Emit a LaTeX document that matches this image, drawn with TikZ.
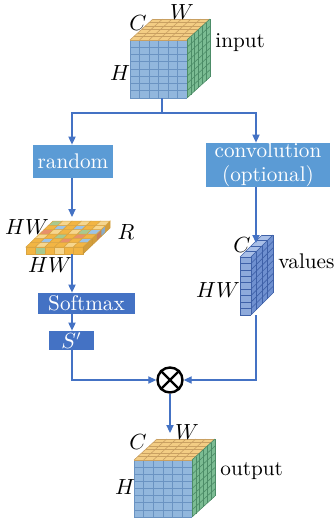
\documentclass[tikz,border=0pt]{standalone}
\usetikzlibrary{arrows.meta}

% palette
\definecolor{flowblue}{HTML}{4472C4}
\definecolor{boxlight}{HTML}{5B9BD5}
\definecolor{boxdark}{HTML}{4472C4}
\definecolor{cubefront}{HTML}{92B7DD}
\definecolor{cubefrontgrid}{HTML}{6A93C2}
\definecolor{cubetop}{HTML}{F3CD84}
\definecolor{cubetopgrid}{HTML}{C9A062}
\definecolor{cubeside}{HTML}{7BBC93}
\definecolor{cubesidegrid}{HTML}{4C8C67}
\definecolor{valfront}{HTML}{8EAADB}
\definecolor{valtop}{HTML}{A9BFE7}
\definecolor{valside}{HTML}{6F90D0}
\definecolor{valgrid}{HTML}{3F61A8}
\definecolor{cO}{HTML}{F2B544}
\definecolor{cL}{HTML}{F6D68E}
\definecolor{cG}{HTML}{A8C98F}
\definecolor{cB}{HTML}{9DC3E6}
\definecolor{cR}{HTML}{E8906A}
\definecolor{slabgrid}{HTML}{D9A441}

% block with gridded front, top and side faces
% #1 x0, #2 y0, #3 width, #4 height, #5 dx, #6 dy, #7 columns, #8 rows, #9 depth cells
\newcommand\gridblock[9]{%
  \fill[blkfront] ({#1},{#2}) rectangle ({#1+#3},{#2+#4});
  \foreach \i in {0,...,#7}{\draw[blkfrontgrid] ({#1+\i*#3/#7},{#2}) -- ({#1+\i*#3/#7},{#2+#4});}
  \foreach \j in {0,...,#8}{\draw[blkfrontgrid] ({#1},{#2+\j*#4/#8}) -- ({#1+#3},{#2+\j*#4/#8});}
  \fill[blktop] ({#1},{#2}) -- ({#1+#3},{#2}) -- ({#1+#3+#5},{#2+#6}) -- ({#1+#5},{#2+#6}) -- cycle;
  \foreach \i in {0,...,#7}{\draw[blktopgrid] ({#1+\i*#3/#7},{#2}) -- ({#1+\i*#3/#7+#5},{#2+#6});}
  \foreach \k in {0,...,#9}{\draw[blktopgrid] ({#1+\k*#5/#9},{#2+\k*#6/#9}) -- ({#1+#3+\k*#5/#9},{#2+\k*#6/#9});}
  \fill[blkside] ({#1+#3},{#2}) -- ({#1+#3+#5},{#2+#6}) -- ({#1+#3+#5},{#2+#6+#4}) -- ({#1+#3},{#2+#4}) -- cycle;
  \foreach \k in {0,...,#9}{\draw[blksidegrid] ({#1+#3+\k*#5/#9},{#2+\k*#6/#9}) -- ({#1+#3+\k*#5/#9},{#2+#4+\k*#6/#9});}
  \foreach \j in {0,...,#8}{\draw[blksidegrid] ({#1+#3},{#2+\j*#4/#8}) -- ({#1+#3+#5},{#2+\j*#4/#8+#6});}
}

\tikzset{
  cubecolours/.style={
    blkfront/.style={fill=cubefront},
    blkfrontgrid/.style={draw=cubefrontgrid, line width=0.3pt},
    blktop/.style={fill=cubetop},
    blktopgrid/.style={draw=cubetopgrid, line width=0.3pt},
    blkside/.style={fill=cubeside},
    blksidegrid/.style={draw=cubesidegrid, line width=0.3pt}},
  valcolours/.style={
    blkfront/.style={fill=valfront},
    blkfrontgrid/.style={draw=valgrid, line width=0.3pt},
    blktop/.style={fill=valtop},
    blktopgrid/.style={draw=valgrid, line width=0.3pt},
    blkside/.style={fill=valside},
    blksidegrid/.style={draw=valgrid, line width=0.3pt}},
}

\begin{document}
\begin{tikzpicture}[x=0.5pt, y=-0.5pt,
  every node/.style={font=\fontsize{10.6}{12}\selectfont, inner sep=0pt},
  flow/.style={draw=flowblue, line width=0.6pt},
  arr/.style={flow, -{Triangle[length=4pt, width=3.6pt]}},
  lightbox/.style={fill=boxlight, text=white, align=center},
  darkbox/.style={fill=boxdark, text=white, align=center}]

\path[use as bounding box] (0,0) rectangle (336,520);

% column guides
\coordinate (lcol) at (72,0);
\coordinate (rcol) at (256,0);

% input tensor
\begin{scope}[cubecolours]
  \gridblock{130}{40}{57}{58}{23}{-21}{6}{8}{6}
\end{scope}
\node (inC) at (138,23) {$C$};
\node (inW) at (182,12) {$W$};
\node (inH) at (120,73) {$H$};
\node[anchor=base west] (inlabel) at (215,47) {input};
\coordinate (inbot) at (162,98);
\coordinate (split) at (162,113);

% processing boxes
\node[lightbox, minimum width=40pt, minimum height=16.5pt] (random) at (73,161.5) {random};
\node[lightbox, minimum width=62pt, minimum height=20pt] (conv) at (268,165)
  {\fontsize{10.6}{9.2}\selectfont convolution\\(optional)};

% random tensor (HW x R)
\def\sx{26}\def\sy{247}\def\sw{57}\def\sh{7}\def\sdx{27}\def\sdy{-26}
\foreach \cellcol [count=\i from 0] in {cO,cG,cO,cL,cO,cO}{
  \fill[\cellcol, draw=slabgrid, line width=0.25pt]
    ({\sx+\i*\sw/6},{\sy}) rectangle ({\sx+(\i+1)*\sw/6},{\sy+\sh});
}
\foreach \cellcol [count=\k from 0] in {cO,cO,cO,cR,cB,cO}{
  \fill[\cellcol, draw=slabgrid, line width=0.25pt]
    ({\sx+\sw+\k*\sdx/6},{\sy+\k*\sdy/6}) -- ({\sx+\sw+(\k+1)*\sdx/6},{\sy+(\k+1)*\sdy/6})
    -- ({\sx+\sw+(\k+1)*\sdx/6},{\sy+\sh+(\k+1)*\sdy/6}) -- ({\sx+\sw+\k*\sdx/6},{\sy+\sh+\k*\sdy/6}) -- cycle;
  \fill[black, opacity=0.12]
    ({\sx+\sw+\k*\sdx/6},{\sy+\k*\sdy/6}) -- ({\sx+\sw+(\k+1)*\sdx/6},{\sy+(\k+1)*\sdy/6})
    -- ({\sx+\sw+(\k+1)*\sdx/6},{\sy+\sh+(\k+1)*\sdy/6}) -- ({\sx+\sw+\k*\sdx/6},{\sy+\sh+\k*\sdy/6}) -- cycle;
}
\foreach \rowcols [count=\k from 0] in {
    {cO,cL,cO,cO,cL,cO},
    {cO,cB,cO,cR,cO,cB},
    {cL,cO,cG,cO,cR,cO},
    {cR,cL,cO,cL,cG,cB},
    {cO,cB,cO,cB,cO,cL},
    {cG,cL,cO,cL,cO,cL}}{
  \foreach \cellcol [count=\i from 0] in \rowcols {
    \fill[\cellcol, draw=slabgrid, line width=0.25pt]
      ({\sx+\i*\sw/6+\k*\sdx/6},{\sy+\k*\sdy/6}) -- ++({\sw/6},0)
      -- ++({\sdx/6},{\sdy/6}) -- ++({-\sw/6},0) -- cycle;
  }
}
\coordinate (slabtop) at (72,217);
\coordinate (slabbot) at (72,254);
\node (rHW) at (27,227) {$HW$};
\node (rR) at (126,232) {$R$};
\node (rHWb) at (50,265) {$HW$};

% values tensor (C x HW)
\begin{scope}[valcolours]
  \gridblock{240}{257}{11}{58}{22}{-22}{1}{9}{4}
\end{scope}
\coordinate (valtop) at (256,243);
\coordinate (valbot) at (256,315);
\node (vC) at (242,245) {$C$};
\node (vHW) at (218,290) {$HW$};
\node[anchor=base west] (vlabel) at (278,268) {values};

% softmax and S'
\node[darkbox, minimum width=48.5pt, minimum height=10.5pt] (softmax) at (86.5,303.5) {Softmax};
\node[darkbox, minimum width=22.5pt, minimum height=9.5pt] (sp) at (71.5,340.5) {$S'$};

% matrix product
\node[circle, draw=black, line width=1.2pt, minimum size=12.5pt] (mul) at (170,380) {};
\draw[line width=1.2pt] (mul.north east) -- (mul.south west);
\draw[line width=1.2pt] (mul.north west) -- (mul.south east);

% output tensor
\begin{scope}[cubecolours]
  \gridblock{134}{460}{58}{57}{23}{-21}{6}{8}{6}
\end{scope}
\coordinate (outtop) at (170,433);
\node (oC) at (138,442) {$C$};
\node (oW) at (187,432) {$W$};
\node (oH) at (125,487) {$H$};
\node[anchor=base west] (outlabel) at (220,475) {output};

% connectors
\draw[flow] (inbot) -- (split);
\draw[arr] (split) -| (random.north -| lcol);
\draw[arr] (split) -| (conv.north -| rcol);
\draw[arr] (random.south -| lcol) -- (slabtop);
\draw[arr] (conv.south -| rcol) -- (valtop);
\draw[arr] (slabbot) -- (softmax.north -| lcol);
\draw[arr] (softmax.south -| lcol) -- (sp.north -| lcol);
\draw[arr] (sp.south -| lcol) |- (mul.west);
\draw[arr] (valbot) |- (mul.east);
\draw[arr] (mul.south) -- (outtop);

\end{tikzpicture}
\end{document}
